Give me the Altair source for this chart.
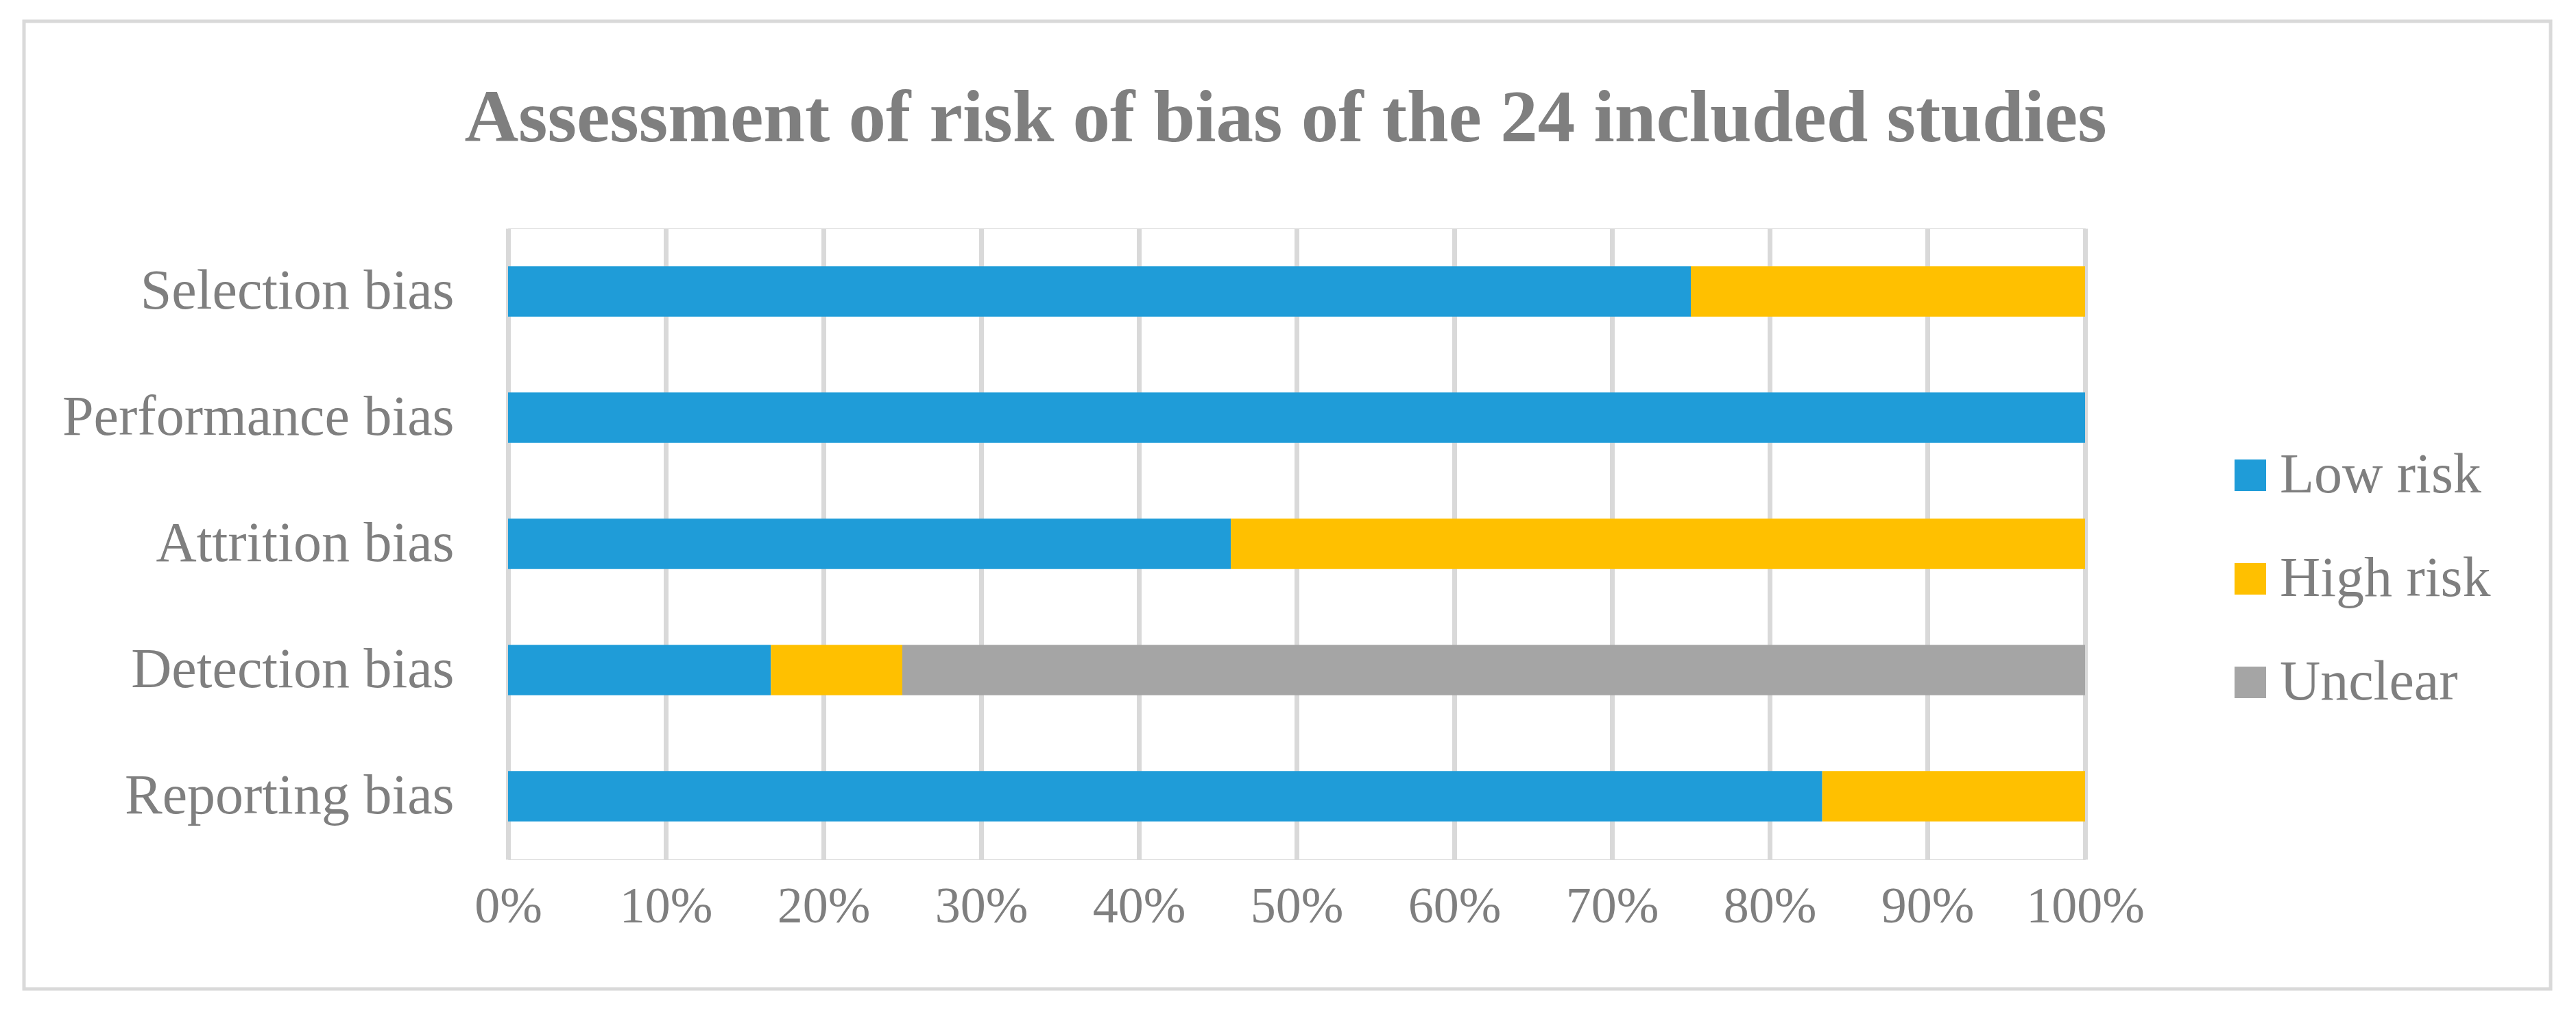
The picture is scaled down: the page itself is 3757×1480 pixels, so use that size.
import altair as alt
import pandas as pd

categories = ["Selection bias", "Performance bias", "Attrition bias", "Detection bias\u00a0", "Reporting bias"]
risk_levels = ["Low risk", "High risk", "Unclear"]
low_risk = [18, 24, 11, 4, 20]
high_risk = [6, 0, 13, 2, 4]
unclear = [0, 0, 0, 18, 0]
colors = ["#1F9CD8", "#FFC000", "#A5A5A5"]
tick_values = [0, 0.1, 0.2, 0.3, 0.4, 0.5, 0.6, 0.7, 0.8, 0.9, 1.0]

rows = []
for i, c in enumerate(categories):
    for j, (lvl, arr) in enumerate(zip(risk_levels, [low_risk, high_risk, unclear])):
        rows.append({"bias": c, "risk": lvl, "count": arr[i], "order": j})
df = pd.DataFrame(rows)

FONT = "Liberation Serif"
GRAY = "#7f7f7f"
LINE = "#d9d9d9"

bars = alt.Chart(df).mark_bar().encode(
    y=alt.Y("bias:N", sort=categories, title=None,
            scale=alt.Scale(paddingInner=0.6, paddingOuter=0.3),
            axis=alt.Axis(domain=False, ticks=False, grid=False, labelPadding=79,
                          labelFont=FONT, labelFontSize=82, labelColor=GRAY, labelLimit=1000)),
    x=alt.X("count:Q", stack="normalize", title=None,
            scale=alt.Scale(domain=[0, 1], nice=False),
            axis=alt.Axis(values=tick_values, format=".0%", domain=False, ticks=False,
                          grid=True, gridColor=LINE, gridWidth=7, labelPadding=33,
                          labelOverlap=False, labelFlush=False,
                          labelFont=FONT, labelFontSize=74, labelColor=GRAY)),
    color=alt.Color("risk:N", sort=risk_levels,
                    scale=alt.Scale(domain=risk_levels, range=colors),
                    legend=alt.Legend(title=None, orient="none", legendX=2500, legendY=319,
                                      symbolType="square", symbolSize=2116, symbolStrokeWidth=0,
                                      symbolOpacity=1, labelFont=FONT, labelFontSize=82,
                                      labelColor=GRAY, labelOffset=2, rowPadding=69,
                                      labelLimit=1000, padding=0)),
    order=alt.Order("order:Q"),
)

border = alt.Chart(pd.DataFrame({"a": [0]})).mark_rect(
    fill=None, stroke=LINE, strokeWidth=5
).encode(
    x=alt.value(-706), x2=alt.value(2979), y=alt.value(-302), y2=alt.value(1109)
)

chart = alt.layer(border, bars).properties(
    width=2300,
    height=920,
    autosize=alt.AutoSizeParams(type="none"),
    padding={"left": 733, "top": 325, "right": 700, "bottom": 210},
    title=alt.TitleParams(
        "Assessment of risk of bias of the 24 included studies",
        font=FONT, fontSize=109, fontWeight="bold", color=GRAY,
        anchor="middle", baseline="alphabetic", offset=-286, dx=-16,
    ),
).configure_view(stroke=None).configure(background="white")

chart.save("out.html", embed_options={"renderer": "svg", "actions": False})
